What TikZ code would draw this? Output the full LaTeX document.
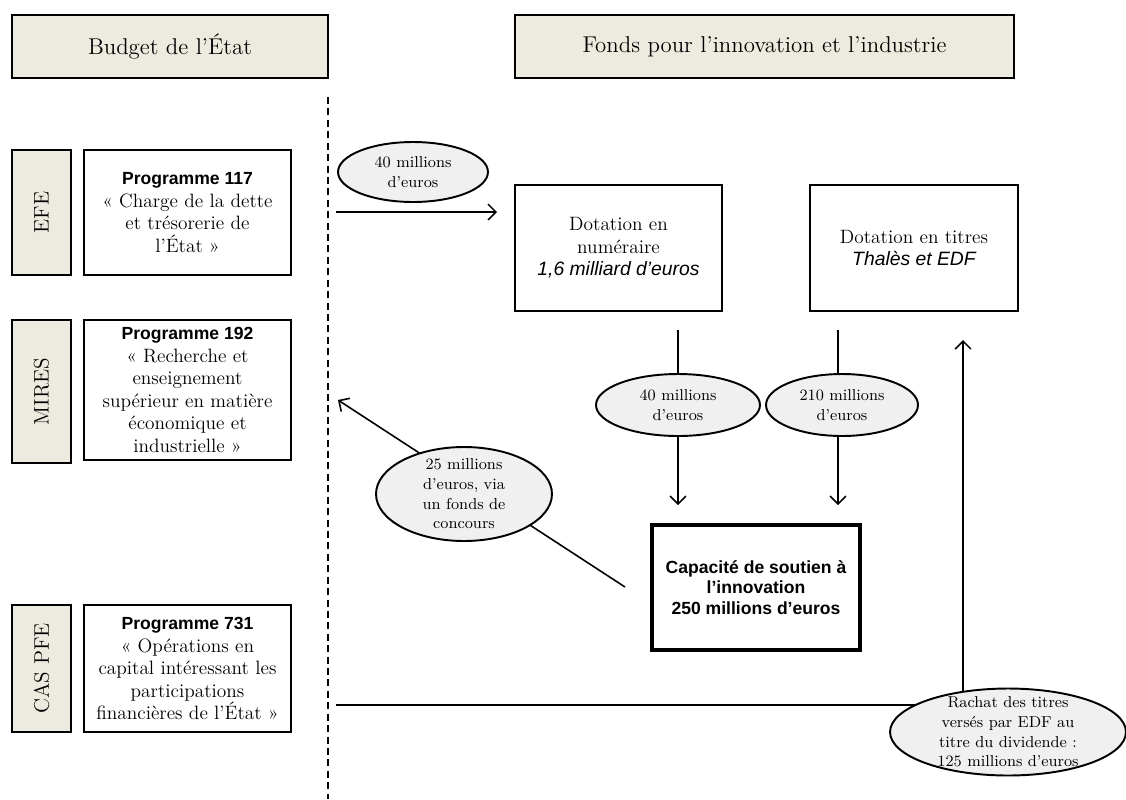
\documentclass[tikz,border=0pt]{standalone}
\usepackage{fontspec}
\newfontfamily\arial{Liberation Sans}
\usetikzlibrary{shapes.geometric}
\usetikzlibrary{arrows.meta}
\definecolor{beige}{RGB}{237,234,224}
\definecolor{grisclair}{RGB}{240,240,240}

\begin{document}
\begin{tikzpicture}[x=0.02cm, y=-0.02cm, >={Straight Barb[length=4.5pt,width=9pt]},
    cadre/.style={draw, line width=1.5pt, fill=white, align=center, inner sep=2pt,
                  font=\fontsize{11}{12.8}\selectfont},
    entete/.style={cadre, fill=beige, minimum height=1.26cm, font=\fontsize{13}{15}\selectfont},
    mission/.style={cadre, fill=beige, rotate=90, minimum height=1.18cm, font=\fontsize{12}{14}\selectfont},
    bulle/.style={draw, ellipse, line width=1.1pt, fill=grisclair, inner sep=0pt, align=center,
                  font=\fontsize{9}{11.2}\selectfont},
    fleche/.style={->, line width=0.9pt}]
  \useasboundingbox (0,0) rectangle (1126,799);

  % En-tetes
  \node[entete, minimum width=6.32cm] (budget) at (170,46.5) {Budget de l’État};
  \node[entete, minimum width=9.98cm] (fonds) at (764.5,46.5) {Fonds pour l’innovation et l’industrie};

  % Separation
  \coordinate (haut) at (328,97);
  \coordinate (bas) at (328,799);
  \draw[line width=0.9pt, dash pattern=on 4pt off 2.5pt] (haut) -- (bas);

  % Missions
  \node[mission, minimum width=2.5cm] (efe) at (41.5,212.5) {EFE};
  \node[mission, minimum width=2.86cm] (mires) at (41.5,391.5) {MIRES};
  \node[mission, minimum width=2.54cm] (caspfe) at (41.5,668.5) {CAS PFE};

  % Programmes
  \node[cadre, minimum width=4.14cm, minimum height=2.5cm] (p117) at (187.5,212.5)
    {{\arial\bfseries\fontsize{10}{12.8}\selectfont Programme 117}\\«~Charge de la dette\\et trésorerie de\\l’État~»};
  \node[cadre, minimum width=4.14cm, minimum height=2.8cm] (p192) at (187.5,390)
    {{\arial\bfseries\fontsize{10}{12.8}\selectfont Programme 192}\\«~Recherche et\\enseignement\\supérieur en matière\\économique et\\industrielle~»};
  \node[cadre, minimum width=4.14cm, minimum height=2.54cm] (p731) at (187.5,668.5)
    {{\arial\bfseries\fontsize{10}{12.8}\selectfont Programme 731}\\«~Opérations en\\capital intéressant les\\participations\\financières de l’État~»};

  % Fonds
  \node[cadre, minimum width=4.14cm, minimum height=2.52cm] (num) at (618.5,248)
    {Dotation en\\numéraire\\{\arial\itshape 1,6 milliard d’euros}};
  \node[cadre, minimum width=4.16cm, minimum height=2.52cm] (titres) at (914,248)
    {Dotation en titres\\{\arial\itshape Thalès et EDF}};
  \node[cadre, line width=2.3pt, minimum width=4.16cm, minimum height=2.5cm,
        font=\arial\bfseries\fontsize{10}{11.5}\selectfont] (capa) at (756,587.5)
    {Capacité de soutien à\\l’innovation\\250 millions d’euros};

  % Flux
  \coordinate (d117) at (336,212);
  \coordinate (f117) at (497,212);
  \draw[fleche] (d117) -- (f117);
  \node[bulle, minimum width=3cm, minimum height=1.2cm] (b117) at (413,172) {40 millions\\d’euros};

  \coordinate (dnum) at (678,330);
  \coordinate (fnum) at (678,505);
  \draw[fleche] (dnum) -- (fnum);
  \node[bulle, minimum width=3.28cm, minimum height=1.24cm] (bnum) at (678,405) {40 millions\\d’euros};

  \coordinate (dtit) at (838,330);
  \coordinate (ftit) at (838,505);
  \draw[fleche] (dtit) -- (ftit);
  \node[bulle, minimum width=3.04cm, minimum height=1.24cm] (btit) at (842,405) {210 millions\\d’euros};

  \coordinate (dcapa) at (625,587);
  \coordinate (f192) at (338,400);
  \draw[fleche] (dcapa) -- (f192);
  \node[bulle, minimum width=3.52cm, minimum height=1.88cm, inner ysep=-0.2cm] (b192) at (464,494)
    {25 millions\\d’euros, via\\un fonds de\\concours};

  \coordinate (d731) at (336,705);
  \coordinate (coin) at (963,705);
  \coordinate (fdiv) at (963,340);
  \draw[fleche] (d731) -- (coin) -- (fdiv);
  \node[bulle, minimum width=4.72cm, minimum height=1.74cm, inner ysep=-0.2cm] (b731) at (1008,732)
    {Rachat des titres\\versés par EDF au\\titre du dividende~:\\125 millions d’euros};
\end{tikzpicture}
\end{document}
